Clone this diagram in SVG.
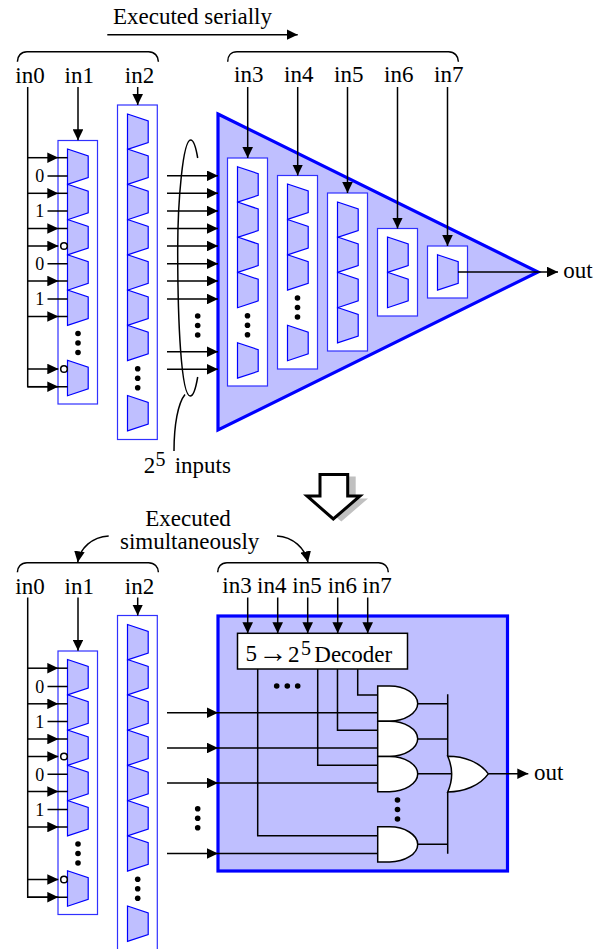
<svg xmlns="http://www.w3.org/2000/svg" xmlns:xlink="http://www.w3.org/1999/xlink" width="601" height="949" viewBox="0 0 601 949">
<style>
text{font-family:"Liberation Serif","Times New Roman",serif;font-size:23px;fill:#000}
.d{font-size:18px}
.s{font-size:20px}
.arr{font-size:29px}
.box{fill:#fff;stroke:#3030ff;stroke-width:1.2}
.mux{fill:#bfbfff;stroke:#0000ff;stroke-width:1.2;stroke-linejoin:miter}
.big{fill:#bfbfff;stroke:#0000ff;stroke-width:3.2;stroke-linejoin:miter}
.w{fill:none;stroke:#000;stroke-width:1.5}
.a{fill:none;stroke:#000;stroke-width:1.5;marker-end:url(#ah)}
.gate{fill:#fff;stroke:#000;stroke-width:1.5}
.bub{fill:#fff;stroke:#000;stroke-width:1.5}
</style>
<defs>
<marker id="ah" markerUnits="userSpaceOnUse" markerWidth="11" markerHeight="10.6" viewBox="0 0 11 10.6" refX="11" refY="5.3" orient="auto"><path d="M0,0L11,5.3L0,10.6z" fill="#000"/></marker>
<polygon id="m" class="mux" points="0,0 20.7,7 20.7,28.6 0,35.4"/>
<g id="v"><circle cx="0" cy="0" r="2.8"/><circle cx="0" cy="9.5" r="2.8"/><circle cx="0" cy="19" r="2.8"/></g>
<path id="and" class="gate" d="M0,0H12C27,0 40,8 40,17.6C40,27 27,35.2 12,35.2H0Z"/>
<g id="c1">
<rect class="box" x="58" y="140.5" width="39.5" height="263.5"/>
<use href="#m" x="67.5" y="149"/><use href="#m" x="67.5" y="184.3"/><use href="#m" x="67.5" y="219.5"/><use href="#m" x="67.5" y="254.8"/><use href="#m" x="67.5" y="290"/><use href="#m" x="67.5" y="360.3"/>
<use href="#v" x="78" y="333.5"/>
</g>
<g id="c2">
<rect class="box" x="117.5" y="105" width="39.8" height="334.5"/>
<use href="#m" x="127.5" y="114"/><use href="#m" x="127.5" y="149"/><use href="#m" x="127.5" y="184.3"/><use href="#m" x="127.5" y="219.5"/><use href="#m" x="127.5" y="254.8"/><use href="#m" x="127.5" y="290"/><use href="#m" x="127.5" y="325.2"/><use href="#m" x="127.5" y="395.5"/>
<use href="#v" x="137.7" y="368.7"/>
</g>
<g id="w1">
<path class="w" d="M27.7,87V386.7H58M67.5,386.7H58"/>
<path class="a" d="M27.7,157.7H58.3"/><path class="w" d="M58,157.7H67.5"/>
<path class="a" d="M27.7,193.3H58.3"/><path class="w" d="M58,193.3H67.5"/>
<path class="a" d="M27.7,228.5H58.3"/><path class="w" d="M58,228.5H67.5"/>
<path class="a" d="M27.7,246H58.3"/>
<path class="a" d="M27.7,281H58.3"/><path class="w" d="M58,281H67.5"/>
<path class="a" d="M27.7,316.5H58.3"/><path class="w" d="M58,316.5H67.5"/>
<path class="a" d="M27.7,369H58.3"/>
<path class="a" d="M27.7,386.7H58.3"/>
<path class="w" d="M47.5,176H67.5M47.5,211H67.5M47.5,263.7H67.5M47.5,299H67.5"/>
<circle class="bub" cx="64" cy="246" r="3.3"/><circle class="bub" cx="64" cy="369" r="3.3"/>
<text class="d" x="35.3" y="182">0</text><text class="d" x="35.3" y="217">1</text><text class="d" x="35.3" y="270">0</text><text class="d" x="35.3" y="305">1</text>
<path class="a" d="M78,87V140.3"/>
<path class="a" d="M137.7,87V105"/>
</g>
</defs>

<g id="top-title"><text x="113" y="24">Executed serially</text></g>

<g id="top-in1"><use href="#c1"/></g>
<g id="top-in2"><use href="#c2"/></g>
<g id="top-tree">
<polygon class="big" points="218,114 538,272 218,430"/>
<g id="tree-in3"><rect class="box" x="227.5" y="158" width="40" height="228"/>
<use href="#m" x="237.5" y="166.7"/><use href="#m" x="237.5" y="202"/><use href="#m" x="237.5" y="237"/><use href="#m" x="237.5" y="272.3"/><use href="#m" x="237.5" y="342.7"/><use href="#v" x="247.5" y="315.7"/></g>
<g id="tree-in4"><rect class="box" x="277.5" y="175.5" width="40" height="193.5"/>
<use href="#m" x="287.5" y="184"/><use href="#m" x="287.5" y="219.5"/><use href="#m" x="287.5" y="254.7"/><use href="#m" x="287.5" y="325.3"/><use href="#v" x="297.5" y="298"/></g>
<g id="tree-in5"><rect class="box" x="327.5" y="193" width="40" height="158"/>
<use href="#m" x="337.5" y="202"/><use href="#m" x="337.5" y="237"/><use href="#m" x="337.5" y="272.3"/><use href="#m" x="337.5" y="307.5"/></g>
<g id="tree-in6"><rect class="box" x="377.5" y="228.5" width="40" height="87.5"/>
<use href="#m" x="387.5" y="237"/><use href="#m" x="387.5" y="272.3"/></g>
<g id="tree-in7"><rect class="box" x="427.5" y="246" width="40" height="52"/>
<use href="#m" x="437.5" y="254.7"/></g>
</g>
<g id="top-labels">
<text x="15.3" y="83">in0</text><text x="64.5" y="83">in1</text><text x="124.8" y="83">in2</text>
<text x="234" y="82">in3</text><text x="284" y="82">in4</text><text x="334" y="82">in5</text><text x="384" y="82">in6</text><text x="434" y="82">in7</text>
<text x="563.3" y="278">out</text>
<text x="143.7" y="473">2<tspan class="s" x="155.5" y="466">5</tspan><tspan x="174.7" y="473">inputs</tspan></text>
<use href="#v" x="197.7" y="316"/>
</g>

<g id="big-arrow">
<polygon points="328,476.5 355.7,476.5 355.7,498.5 368,498.5 341.3,521.5 315,498.5 328,498.5" fill="#c0c0c0"/>
<polygon points="320,474.5 347.7,474.5 347.7,496 360,496 333.3,519 307,496 320,496" fill="#fff" stroke="#000" stroke-width="3" stroke-linejoin="miter"/>
</g>

<g id="mid-title"><text x="145.3" y="525.7">Executed</text><text x="120" y="549.3">simultaneously</text></g>

<g id="bottom-in1"><use href="#c1" y="510.5"/></g>
<g id="bottom-in2"><use href="#c2" y="510.5"/></g>
<g id="bottom-block">
<rect class="big" x="218" y="616" width="289.5" height="255"/>
</g>
<g id="decoder">
<rect x="237.5" y="633.3" width="170" height="35.7" fill="#fff" stroke="#000" stroke-width="1.5"/>
<text x="245.5" y="660.7">5</text><text class="arr" x="258.5" y="662">→</text>
<text x="288" y="661.5">2<tspan class="s" x="301" y="654.5">5</tspan><tspan x="314.3" y="661.5">Decoder</tspan></text>
</g>
<g id="bottom-labels">
<text x="15.3" y="594">in0</text><text x="64.5" y="594">in1</text><text x="124.8" y="594">in2</text>
<text x="222.3" y="593.3">in3</text><text x="257" y="593.3">in4</text><text x="292.3" y="593.3">in5</text><text x="327.7" y="593.3">in6</text><text x="362.3" y="593.3">in7</text>
<text x="534" y="780">out</text>
<use href="#v" x="197.7" y="808.7"/>
<g><circle cx="276.7" cy="686" r="2.8"/><circle cx="287.3" cy="686" r="2.8"/><circle cx="297.7" cy="686" r="2.8"/></g>
<use href="#v" x="397.5" y="800"/>
</g>

<g id="connectors">
<path class="a" d="M107.3,34.7H297.7"/>
<path class="w" d="M17.4,61.7C17.4,56 21,51.8 27,51.8H148.5C154.5,51.8 158.4,56 158.4,61.7"/>
<path class="w" d="M227.7,61.7C227.7,56 231,51.8 237,51.8H448.5C454.5,51.8 458.4,56 458.4,61.7"/>
<use href="#w1"/>
<path class="a" d="M247.7,87V158"/><path class="a" d="M297.7,87V175.5"/><path class="a" d="M347.5,87V193"/><path class="a" d="M397.5,87V228.5"/><path class="a" d="M447.5,87V246"/>
<path class="a" d="M458,272H558"/>
<path class="a" d="M167,175.8H218"/><path class="a" d="M167,193.3H218"/><path class="a" d="M167,211H218"/><path class="a" d="M167,228.5H218"/><path class="a" d="M167,246H218"/><path class="a" d="M167,263.7H218"/><path class="a" d="M167,281H218"/><path class="a" d="M167,299H218"/><path class="a" d="M167,351.7H218"/><path class="a" d="M167,369.3H218"/>
<path class="w" d="M197.7,158C196,148 194,140 190.7,140C183,140 177.7,200 177.7,250C177.7,320 181,396 190.3,396C194,396 196,387 197.7,377"/>
<path class="w" d="M185,394.5C178,403 174,425 174,451"/>

<path class="a" d="M108.7,536C92,537 80,548 77.7,562.3"/>
<path class="a" d="M277,536C293,537 305,548 308,562.3"/>
<path class="w" d="M17.4,572.3C17.4,567 21,562.7 27,562.7H148.5C154.5,562.7 158.4,567 158.4,572.3"/>
<path class="w" d="M217.7,572.3C217.7,567 221,562.7 227,562.7H378.5C384.5,562.7 388.3,567 388.3,572.3"/>
<use href="#w1" y="510.5"/>
<path class="a" d="M247.7,597.5V633.3"/><path class="a" d="M277.7,597.5V633.3"/><path class="a" d="M307.7,597.5V633.3"/><path class="a" d="M337.7,597.5V633.3"/><path class="a" d="M367.7,597.5V633.3"/>
<path class="a" d="M167,712.7H218"/><path class="a" d="M167,748H218"/><path class="a" d="M167,783H218"/><path class="a" d="M167,853.5H218"/>
<path class="w" d="M218,712.7H377.7M218,748H377.7M218,783H377.7M218,853.5H377.7"/>
<path class="w" d="M257.7,669V835.7H377.7M317.7,669V765.3H377.7M337.5,669V730.3H377.7M357.7,669V695H377.7"/>
<path class="w" d="M417.7,703.7H447.7M417.7,739H447.7M417.7,773.7H452M417.7,844.3H447.7M447.7,694.3V756M447.7,792V853.7"/>
<path class="a" d="M488.3,773.7H528.3"/>
</g>

<g id="and1"><use href="#and" x="377.7" y="686"/></g>
<g id="and2"><use href="#and" x="377.7" y="721.2"/></g>
<g id="and3"><use href="#and" x="377.7" y="756.5"/></g>
<g id="and4"><use href="#and" x="377.7" y="826.8"/></g>
<g id="or"><path class="gate" d="M447.7,756.3C464,756.3 480,762 488.3,773.9C480,785.5 464,792 447.7,792C453,780 453,768 447.7,756.3Z"/></g>
</svg>
